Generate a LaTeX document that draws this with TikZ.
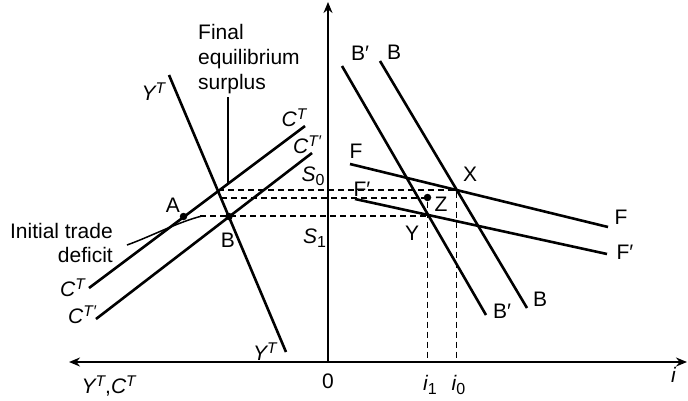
\documentclass[tikz,border=0pt]{standalone}
\usepackage{fontspec}
\setmainfont{Liberation Sans}
\usetikzlibrary{arrows.meta}
\newcommand\mysup[1]{\raisebox{7pt}{\fontsize{15.5}{15.5}\selectfont\itshape #1}}
\newcommand\mysub[1]{\raisebox{-4pt}{\fontsize{16}{16}\selectfont #1}}
\begin{document}
\begin{tikzpicture}[x=1pt,y=-1pt,
  every node/.style={font=\fontsize{21}{25}\selectfont, inner sep=0pt},
  curveline/.style={line width=2.6pt},
  axisline/.style={line width=2pt},
  guide/.style={line width=1.6pt, dash pattern=on 6pt off 4pt},
  pointer/.style={line width=1.5pt},
  dotmark/.style={circle, fill=black, inner sep=0pt, minimum size=7.5pt},
  tip/.style={-{Stealth[length=11pt,width=9pt]}}]
\useasboundingbox (0,0) rectangle (688,400);

% axes
\coordinate (o) at (328,362);
\coordinate (xleft) at (69,362);
\coordinate (xright) at (687,362);
\coordinate (ytop) at (328,2);
\draw[axisline,tip] (o) -- (xleft);
\draw[axisline,tip] (o) -- (xright);
\draw[axisline,tip] (o) -- (ytop);

% left panel curves
\coordinate (yt1) at (169,75);   \coordinate (yt2) at (286,352);
\coordinate (ct1) at (89,288);   \coordinate (ct2) at (305,126);
\coordinate (cp1) at (96,319);   \coordinate (cp2) at (312,153);
\draw[curveline] (yt1) -- (yt2);
\draw[curveline] (ct1) -- (ct2);
\draw[curveline] (cp1) -- (cp2);

% right panel curves
\coordinate (bp1) at (342,66);   \coordinate (bp2) at (486,315);
\coordinate (b1) at (380,61);    \coordinate (b2) at (527,308);
\coordinate (f1) at (350,164);   \coordinate (f2) at (608,227);
\coordinate (fp1) at (355,199);  \coordinate (fp2) at (607,254);
\draw[curveline] (bp1) -- (bp2);
\draw[curveline] (b1) -- (b2);
\draw[curveline] (f1) -- (f2);
\draw[curveline] (fp1) -- (fp2);

% key points
\coordinate (s0l) at (218,190);
\coordinate (X) at (456.5,190);
\coordinate (i0) at (456.5,362);
\coordinate (midl) at (221,198);
\coordinate (Zp) at (427.5,198);
\coordinate (i1) at (427.5,362);
\coordinate (s1l) at (200,216);
\coordinate (Yp) at (427.5,216);

% dashed guides
\draw[guide] (s0l) -- (X) -- (i0);
\draw[guide] (midl) -- (Zp) -- (i1);
\draw[guide] (s1l) -- (Yp);

% dots
\node[dotmark] (A) at (183.5,216.5) {};
\node[dotmark] (B) at (229,216.5) {};
\node[dotmark] (Z) at (427.5,197.5) {};

% pointers
\coordinate (fes1) at (228,97);
\coordinate (fes2) at (228,184);
\draw[pointer] (fes1) -- (fes2);
\coordinate (itd1) at (127,245);
\coordinate (itd2) at (202,216);
\draw[pointer] (itd1) .. controls (152,236) and (178,222) .. (itd2);

% texts
\node[anchor=base west] (fin1) at (198,39) {Final};
\node[anchor=base west] (fin2) at (198,64) {equilibrium};
\node[anchor=base west] (fin3) at (198,89) {surplus};
\node[anchor=base east] (itd3) at (113,238) {Initial trade};
\node[anchor=base east] (itd4) at (113,262) {deficit};

% labels left
\node[anchor=base west] (lYT1) at (141.5,100) {{\itshape Y}\mysup{T}};
\node[anchor=base west] (lYT2) at (253,360) {{\itshape Y}\mysup{T}};
\node[anchor=base west] (lCT1) at (281.5,126) {{\itshape C}\mysup{T}};
\node[anchor=base west] (lCP1) at (293,153) {{\itshape C}\mysup{T\/\upshape′}};
\node[anchor=base west] (lCT2) at (60,296.5) {{\itshape C}\mysup{T}};
\node[anchor=base west] (lCP2) at (68,323) {{\itshape C}\mysup{T\/\upshape′}};
\node[anchor=base west] (lS0) at (301.5,181.5) {{\itshape S}\mysub{0}};
\node[anchor=base west] (lS1) at (303,243) {{\itshape S}\mysub{1}};
\node (lA) at (173,205) {A};
\node (lB) at (228,240) {B};
\node[anchor=base west] (lax) at (81.5,393) {{\itshape Y}\mysup{T},{\itshape C}\mysup{T}};
\node (l0) at (328,381) {0};

% labels right
\node (lBp1) at (360,53) {B′};
\node (lB1) at (394,52) {B};
\node (lF1) at (356,151) {F};
\node (lX) at (470,174) {X};
\node (lFp1) at (362,189) {F′};
\node (lZ) at (441,204) {Z};
\node (lY) at (412,233) {Y};
\node (lF2) at (621,217) {F};
\node (lFp2) at (625,252) {F′};
\node (lBp2) at (502,311) {B′};
\node (lB2) at (540,299) {B};
\node[anchor=base west] (li1) at (423,390) {{\itshape i}\mysub{1}};
\node[anchor=base west] (li0) at (451.5,390) {{\itshape i}\mysub{0}};
\node[anchor=base west] (li) at (671,382.5) {\itshape i};
\end{tikzpicture}
\end{document}
